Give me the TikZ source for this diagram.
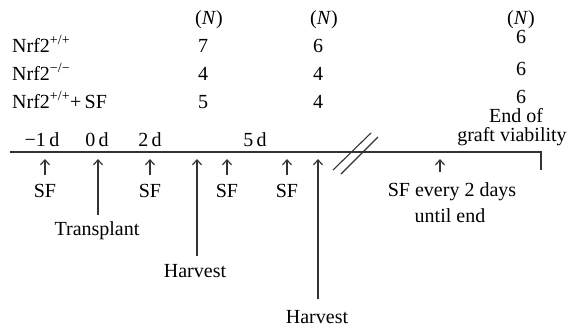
\documentclass[tikz,border=0pt]{standalone}
\usepackage{fontspec}
\setmainfont{Liberation Serif}
\usetikzlibrary{arrows.meta}
\begin{document}
\begin{tikzpicture}[x=1pt,y=-1pt,
  txt/.style={font=\fontsize{20}{24}\selectfont, inner sep=0pt, anchor=base},
  rowlab/.style={txt, anchor=base west},
  arr/.style={-{Straight Barb[length=5pt,width=9pt]}, line width=1.2pt, draw=black!80},
  axis/.style={line width=1.4pt, draw=black!80}]
\useasboundingbox (0,0) rectangle (571,330);

% group labels
\node[rowlab] (g1) at (12,52)  {Nrf2\textsuperscript{+/+}};
\node[rowlab] (g2) at (12,80)  {Nrf2\textsuperscript{−/−}};
\node[rowlab] (g3) at (12,108) {Nrf2\textsuperscript{+/+}+\,SF};

% animal numbers per time point
\node[txt] (h1) at (209,24) {(\textit{N})};
\node[txt] (h2) at (324,24) {(\textit{N})};
\node[txt] (h3) at (521,24) {(\textit{N})};
\node[txt] (c11) at (203,52)  {7};
\node[txt] (c12) at (203,80)  {4};
\node[txt] (c13) at (203,108) {5};
\node[txt] (c21) at (318,52)  {6};
\node[txt] (c22) at (318,80)  {4};
\node[txt] (c23) at (318,108) {4};
\node[txt] (c31) at (521,43)  {6};
\node[txt] (c32) at (521,75)  {6};
\node[txt] (c33) at (521,103) {6};

% timeline
\coordinate (axL) at (10,152);
\coordinate (axR) at (541,152);
\coordinate (axEnd) at (541,170);
\draw[axis] (axL) -- (axR) -- (axEnd);
\coordinate (s1a) at (333,170); \coordinate (s1b) at (371,133);
\coordinate (s2a) at (341,174); \coordinate (s2b) at (378,137);
\draw[axis, line width=1.1pt] (s1a) -- (s1b);
\draw[axis, line width=1.1pt] (s2a) -- (s2b);

\node[txt] (endA) at (516,122) {End of};
\node[txt] (endB) at (512,141) {graft viability};

% day marks
\node[txt] (dm1) at (42,146)  {−1\,d};
\node[txt] (d0)  at (97,146)  {0\,d};
\node[txt] (d2)  at (150,146) {2\,d};
\node[txt] (d5)  at (255,146) {5\,d};

% events below the axis
\node[txt] (sf1) at (45,197)  {SF};
\node[txt] (tr)  at (97,235)  {Transplant};
\node[txt] (sf2) at (150,197) {SF};
\node[txt] (hv1) at (195,277) {Harvest};
\node[txt] (sf3) at (227,197) {SF};
\node[txt] (sf4) at (287,197) {SF};
\node[txt] (hv2) at (317,323) {Harvest};
\node[txt] (ev1) at (452,196) {SF every 2 days};
\node[txt] (ev2) at (450,222) {until end};

\coordinate (a1) at (45,159);
\coordinate (a2) at (98,159);
\coordinate (a3) at (150,159);
\coordinate (a4) at (197,159);
\coordinate (a5) at (227,159);
\coordinate (a6) at (287,159);
\coordinate (a7) at (318,159);
\coordinate (a8) at (440,159);

\draw[arr, shorten <=8.5pt] (sf1.north -| a1) -- (a1);
\draw[arr, shorten <=6pt]   (tr.north -| a2)  -- (a2);
\draw[arr, shorten <=8.5pt] (sf2.north -| a3) -- (a3);
\draw[arr, shorten <=8pt]   (hv1.north -| a4) -- (a4);
\draw[arr, shorten <=8.5pt] (sf3.north -| a5) -- (a5);
\draw[arr, shorten <=8.5pt] (sf4.north -| a6) -- (a6);
\draw[arr, shorten <=11pt]  (hv2.north -| a7) -- (a7);
\draw[arr, shorten <=10pt]  (ev1.north -| a8) -- (a8);
\end{tikzpicture}
\end{document}
